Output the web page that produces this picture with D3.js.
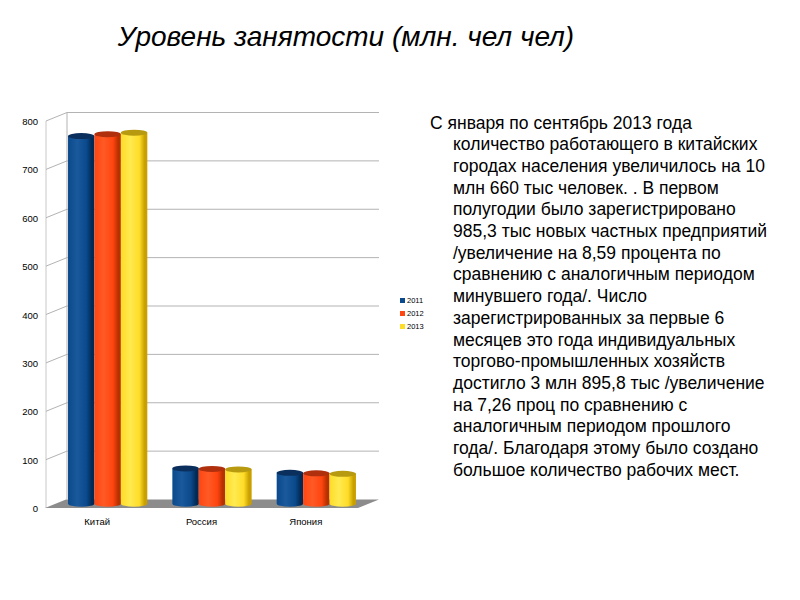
<!DOCTYPE html>
<html><head><meta charset="utf-8">
<script src="https://cdn.jsdelivr.net/npm/d3@7"></script>
<style>html,body{margin:0;padding:0;background:#fff;}svg{display:block;}</style>
</head><body>
<svg id="c" width="800" height="600"></svg>
<script>
const categories = ["Китай", "Россия", "Япония"];
const seriesNames = ["2011", "2012", "2013"];
const v2011 = [760, 73, 64];
const v2012 = [764, 72, 63];
const v2013 = [767, 71, 62];
const yTicks = [0, 100, 200, 300, 400, 500, 600, 700, 800];
const title = "Уровень занятости (млн. чел чел)";
const bodyLines = [
  "С января по сентябрь 2013 года",
  "количество работающего в китайских",
  "городах населения увеличилось на 10",
  "млн 660 тыс человек. . В первом",
  "полугодии было зарегистрировано",
  "985,3 тыс новых частных предприятий",
  "/увеличение на 8,59 процента по",
  "сравнению с аналогичным периодом",
  "минувшего года/. Число",
  "зарегистрированных за первые 6",
  "месяцев это года индивидуальных",
  "торгово-промышленных хозяйств",
  "достигло 3 млн 895,8 тыс /увеличение",
  "на 7,26 проц по сравнению с",
  "аналогичным периодом прошлого",
  "года/. Благодаря этому было создано",
  "большое количество рабочих мест."
];

const series = [v2011, v2012, v2013];
const colors = {
  "2011": {base:"#0a4a8c", light:"#1a5a9c", dark:"#022a55", top:"#0b2f5c"},
  "2012": {base:"#ff4510", light:"#ff5a25", dark:"#b83000", top:"#b0300e"},
  "2013": {base:"#ffdc28", light:"#ffea50", dark:"#c9a000", top:"#b89a10"}
};

const svg = d3.select("#c");
const font = "'Liberation Sans', Arial, sans-serif";

// Title
svg.append("text").attr("x", 346).attr("y", 46).attr("text-anchor", "middle")
  .attr("font-family", font).attr("font-style", "italic").attr("font-size", 28)
  .attr("fill", "#000").text(title);

// 3D geometry
const DX = 21, DY = 8.5;
const y = d3.scaleLinear().domain([0, 800]).range([508, 121]); // front plane
const x = d3.scaleBand().domain(categories).range([45, 358]).padding(0);
const xs = d3.scaleBand().domain(seriesNames).range([x.bandwidth()*0.12, x.bandwidth()*0.88]).padding(0);

const defs = svg.append("defs");
seriesNames.forEach(s => {
  const c = colors[s];
  const g = defs.append("linearGradient").attr("id", "g" + s).attr("x1", 0).attr("x2", 1).attr("y1", 0).attr("y2", 0);
  [[0, c.base], [0.35, c.light], [0.7, c.base], [0.9, c.dark], [1, c.dark]].forEach(([o, col]) =>
    g.append("stop").attr("offset", o).attr("stop-color", col));
});

const grid = svg.append("g");
const x0 = x.range()[0], x1 = x.range()[1];
grid.append("line").attr("x1", x0 + 1).attr("x2", x0 + 1).attr("y1", y(800)).attr("y2", y(0))
  .attr("stroke", "#c8c8c8").attr("stroke-width", 1);
grid.append("line").attr("x1", x0 + DX + 1).attr("x2", x0 + DX + 1).attr("y1", y(800) - DY).attr("y2", y(0) - DY)
  .attr("stroke", "#b3b3b3").attr("stroke-width", 1);
yTicks.forEach(t => {
  if (t > 0) {
    grid.append("line").attr("x1", x0 + DX + 1).attr("x2", x1 + DX).attr("y1", y(t) - DY).attr("y2", y(t) - DY)
      .attr("stroke", "#b3b3b3").attr("stroke-width", 1);
    grid.append("line").attr("x1", x0 + 1).attr("x2", x0 + DX + 1).attr("y1", y(t)).attr("y2", y(t) - DY)
      .attr("stroke", "#b3b3b3").attr("stroke-width", 1);
  }
  svg.append("text").attr("x", 38).attr("y", y(t) + 4).attr("text-anchor", "end")
    .attr("font-family", font).attr("font-size", 9.5).attr("fill", "#000").text(t);
});

// floor
const fy0 = y(0);
svg.append("path")
  .attr("d", `M${x0},${fy0} L${x1},${fy0} L${x1 + DX},${fy0 - DY} L${x0 + DX},${fy0 - DY} Z`)
  .attr("fill", "#8c8c8c");

// bars (cylinders) at mid depth
const mdx = DX / 2, mdy = DY / 2;
const bars = svg.append("g");
categories.forEach((cat, ci) => {
  seriesNames.forEach((s, si) => {
    const val = series[si][ci];
    const bx = x(cat) + xs(s) + mdx;
    const bw = xs.bandwidth();
    const top = y(val) - mdy, bot = y(0) - mdy;
    const ry = 3;
    bars.append("path")
      .attr("d", `M${bx},${top} L${bx},${bot} A${bw/2},${ry} 0 0 0 ${bx + bw},${bot} L${bx + bw},${top} Z`)
      .attr("fill", `url(#g${s})`);
    bars.append("ellipse").attr("cx", bx + bw / 2).attr("cy", top).attr("rx", bw / 2).attr("ry", ry)
      .attr("fill", colors[s].top);
  });
});

// category labels
categories.forEach(cat => {
  svg.append("text").attr("x", x(cat) + x.bandwidth() / 2).attr("y", 525).attr("text-anchor", "middle")
    .attr("font-family", font).attr("font-size", 9.5).attr("fill", "#000").text(cat);
});

// legend
seriesNames.forEach((s, i) => {
  const ly = 298 + i * 13;
  svg.append("rect").attr("x", 400).attr("y", ly).attr("width", 5).attr("height", 5).attr("fill", colors[s].base);
  svg.append("text").attr("x", 407).attr("y", ly + 5).attr("font-family", font).attr("font-size", 7.5)
    .attr("fill", "#000").text(s);
});

// body text
bodyLines.forEach((ln, i) => {
  svg.append("text").attr("x", i === 0 ? 430 : 453).attr("y", 128.5 + i * 21.7)
    .attr("font-family", font).attr("font-size", 17.5).attr("fill", "#000").text(ln);
});
</script>
</body></html>
